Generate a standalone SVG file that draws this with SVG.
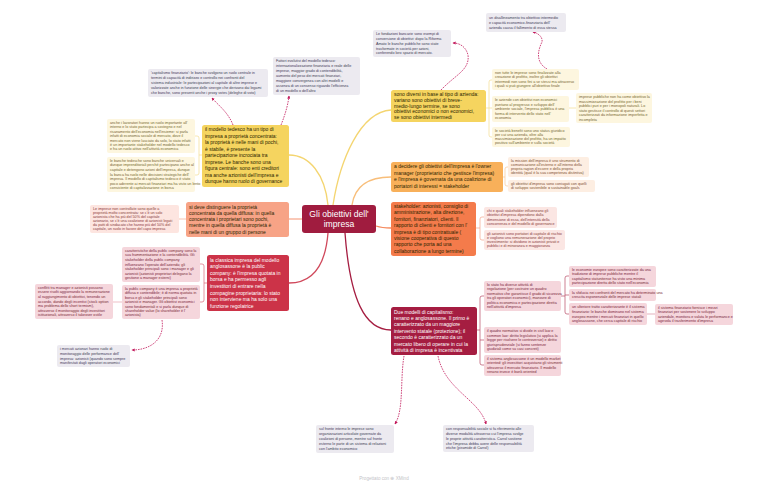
<svg xmlns="http://www.w3.org/2000/svg" width="768" height="485" viewBox="0 0 768 485">
<defs>
<marker id="ar" viewBox="0 0 6 6" refX="5" refY="3" markerWidth="4" markerHeight="4" orient="auto">
<path d="M0,0 L6,3 L0,6 z" fill="#c2185b"/>
</marker>
<style>
text{font-family:"Liberation Sans",Arial,sans-serif;}
.s{font-size:3.7px;}
.m{font-size:5px;}
.gb{fill:#eceaf0;} .gt{fill:#3c3a55;}
.yb{fill:#fdf6df;} .yt{fill:#75662e;}
.ob{fill:#fdeee2;} .ot{fill:#7e5130;}
.pb{fill:#fbe6e3;} .pt{fill:#8a3a3a;}
.rb{fill:#f5d6dc;} .rt{fill:#7a2638;}
.dk{fill:#2b2400;} .wt{fill:#ffffff;}
.br{fill:none;stroke-width:0.7;}
.cn{fill:none;stroke-width:1.3;}
.rel{fill:none;stroke:#c2185b;stroke-width:0.8;stroke-dasharray:1.6 1;marker-end:url(#ar);}
</style>
</defs>
<rect width="768" height="485" fill="#ffffff"/>

<g id="connectors">
<path class="cn" stroke="#f4d570" d="M333,205 C340,160 360,112 391,110"/>
<path class="cn" stroke="#f4d570" d="M328,205 C325,175 310,155 289,155"/>
<path class="cn" stroke="#f8be7a" d="M352,205 C355,185 370,177 391,177"/>
<path class="cn" stroke="#f58a5e" d="M376,226 C382,228 386,228 391,228"/>
<path class="cn" stroke="#f7ab90" d="M302,219 L289,219"/>
<path class="cn" stroke="#d0485b" d="M328,233 C325,270 310,283 289,283"/>
<path class="cn" stroke="#a51d41" d="M345,233 C350,300 365,330 391,330"/>

<path class="br" stroke="#f3dc90" d="M486,108 L489,108 M492,80 L491,80 Q489,80 489,82 L489,135 Q489,137 491,137 L492,137 M489,108 L492,108"/>
<path class="br" stroke="#f3dc90" d="M569,108 L576,108"/>
<path class="br" stroke="#f8c89a" d="M503,177 L505,177 M508,167 L507,167 Q505,167 505,169 L505,184 Q505,186 507,186 L508,186"/>
<path class="br" stroke="#f4a58a" d="M476,228 L480,228 M484,217 L482,217 Q480,217 480,219 L480,238 Q480,240 482,240 L484,240"/>
<path class="br" stroke="#f3dc90" d="M202,155 L199,155 M195,136 L197,136 Q199,136 199,138 L199,173 Q199,175 197,175 L195,175"/>
<path class="br" stroke="#f7ab90" d="M186,219 L179,219"/>
<path class="br" stroke="#d8677a" d="M207,283 L204,283 M200,264 L202,264 Q204,264 204,266 L204,300 Q204,302 202,302 L200,302"/>
<path class="br" stroke="#e8a5b0" d="M122,302 L113,302"/>
<path class="br" stroke="#b84a66" d="M477,330 L480,330 M484,296 L482,296 Q480,296 480,298 L480,363 Q480,365 482,365 L484,365 M480,340 L484,340"/>
<path class="br" stroke="#b84a66" d="M561,296 L565,296 M569,276 L567,276 Q565,276 565,278 L565,312 Q565,314 567,314 L569,314 M565,295 L569,295"/>
<path class="br" stroke="#d890a0" d="M647,314 L655,314"/>

<path class="rel" d="M233,125 C228,112 218,105 212,98"/>
<path class="rel" d="M281,125 C285,115 288,105 289,96"/>
<path class="rel" d="M441,90 C455,75 470,70 468,55 C466,47 460,43 453,43"/>
<path class="rel" d="M547,69 C535,62 538,50 542,42 C543,37 538,33 533,32"/>
<path class="rel" d="M162,320 C165,340 150,350 132,350"/>
<path class="rel" d="M404,356 C400,380 404,410 395,424"/>
<path class="rel" d="M438,356 C445,390 480,400 486,424"/>
</g>

<g id="central">
<rect x="302" y="205" width="74" height="28" rx="3" fill="#a01c3f"/>
<text x="339" y="216.5" font-size="8.6" fill="#fff" text-anchor="middle"><tspan x="339" dy="0">Gli obiettivi dell'</tspan><tspan x="339" dy="10">impresa</tspan></text>
</g>

<g id="g1"><rect class="gb" x="148" y="69" width="120" height="28" rx="2"/>
<text class="s gt" x="151" y="74.3"><tspan x="151" dy="0">'capitalismo finanziario': le banche svolgono un ruolo centrale in</tspan><tspan x="151" dy="5">termini di capacità di indirizzo e controllo nei confronti del</tspan><tspan x="151" dy="5">sistema industriale: le partecipazioni al capitale di altre imprese e</tspan><tspan x="151" dy="5">valorizzate anche in funzione delle sinergie che derivano dai legami</tspan><tspan x="151" dy="5">che banche, sono presenti anche i proxy votes (deleghe di voto)</tspan></text></g>

<g id="g2"><rect class="gb" x="273" y="57" width="87" height="38" rx="2"/>
<text class="s gt" x="276" y="62.3"><tspan x="276" dy="0">Fattori evolutivi del modello tedesco:</tspan><tspan x="276" dy="5">internazionalizzazione finanziaria e reale delle</tspan><tspan x="276" dy="5">imprese, maggior grado di contendibilità,</tspan><tspan x="276" dy="5">aumento del peso dei mercati finanziari,</tspan><tspan x="276" dy="5">maggiore convergenza con altri modelli e</tspan><tspan x="276" dy="5">assenza di un consenso riguardo l'efficienza</tspan><tspan x="276" dy="5">di un modello o dell'altro</tspan></text></g>

<g id="g3"><rect class="gb" x="373" y="30" width="78" height="27" rx="2"/>
<text class="s gt" x="376" y="35.1"><tspan x="376" dy="0">Le fondazioni bancarie sono esempi di</tspan><tspan x="376" dy="4.8">conversione di obiettivi: dopo la Riforma</tspan><tspan x="376" dy="4.8">Amato le banche pubbliche sono state</tspan><tspan x="376" dy="4.8">trasformate in società per azioni,</tspan><tspan x="376" dy="4.8">conferendo loro spazio di mercato.</tspan></text></g>

<g id="g4"><rect class="gb" x="486" y="13" width="80" height="19" rx="2"/>
<text class="s gt" x="489" y="18.5"><tspan x="489" dy="0">un disallineamento tra obiettivo intermedio</tspan><tspan x="489" dy="5.2">e capacità economico-finanziaria dell'</tspan><tspan x="489" dy="5.2">azienda causa il fallimento di essa stessa</tspan></text></g>

<g id="n-diversi"><rect x="391" y="90" width="95" height="32" rx="2.5" fill="#f5d45f"/>
<text class="m dk" x="394" y="96"><tspan x="394" dy="0">sono diversi in base al tipo di azienda:</tspan><tspan x="394" dy="5.8">variano sono obiettivi di breve-</tspan><tspan x="394" dy="5.8">medio-lungo termine, se sono</tspan><tspan x="394" dy="5.8">obiettivi economici o non economici,</tspan><tspan x="394" dy="5.8">se sono obiettivi intermedi</tspan></text></g>

<g id="ya"><rect class="yb" x="492" y="69" width="87" height="21" rx="2"/>
<text class="s yt" x="495" y="73.9"><tspan x="495" dy="0">non tutte le imprese sono finalizzate alla</tspan><tspan x="495" dy="4.5">creazione di profitto, inoltre gli obiettivi</tspan><tspan x="495" dy="4.5">intermedi non sono fini a se stessi ma attraverso</tspan><tspan x="495" dy="4.5">i quali si può giungere all'obiettivo finale</tspan></text></g>

<g id="yb"><rect class="yb" x="492" y="96" width="77" height="26" rx="2"/>
<text class="s yt" x="495" y="101"><tspan x="495" dy="0">le aziende con obiettivi non economici</tspan><tspan x="495" dy="4.6">puntano al progresso e sviluppo dell'</tspan><tspan x="495" dy="4.6">ambiente sociale, l'impresa pubblica è una</tspan><tspan x="495" dy="4.6">forma di intervento dello stato nell'</tspan><tspan x="495" dy="4.6">economia</tspan></text></g>

<g id="yc"><rect class="yb" x="576" y="93" width="76" height="30" rx="2"/>
<text class="s yt" x="579" y="98"><tspan x="579" dy="0">imprese pubbliche non ha come obiettivo la</tspan><tspan x="579" dy="4.5">massimizzazione del profitto per i beni</tspan><tspan x="579" dy="4.5">pubblici puri e per i monopoli naturali. Lo</tspan><tspan x="579" dy="4.5">stato gestisce il controllo di questi settori</tspan><tspan x="579" dy="4.5">caratterizzati da informazione imperfetta e</tspan><tspan x="579" dy="4.5">incompleta</tspan></text></g>

<g id="yd"><rect class="yb" x="492" y="127" width="78" height="20" rx="2"/>
<text class="s yt" x="495" y="131.7"><tspan x="495" dy="0">le società benefit sono uno status giuridico</tspan><tspan x="495" dy="4.25">per cui una azienda, oltre alla</tspan><tspan x="495" dy="4.25">massimizzazione del profitto, ha un impatto</tspan><tspan x="495" dy="4.25">positivo sull'ambiente e sulla società</tspan></text></g>

<g id="n-owner"><rect x="391" y="162" width="112" height="30" rx="2.5" fill="#f8b05a"/>
<text class="m dk" x="394" y="168"><tspan x="394" dy="0">a decidere gli obiettivi dell'impresa è l'owner</tspan><tspan x="394" dy="6.6">manager (proprietario che gestisce l'impresa)</tspan><tspan x="394" dy="6.6">e l'impresa è governata da una coalizione di</tspan><tspan x="394" dy="6.6">portatori di interessi = stakeholder</tspan></text></g>

<g id="oa"><rect class="ob" x="508" y="157" width="81" height="20" rx="2"/>
<text class="s ot" x="511" y="161.7"><tspan x="511" dy="0">la mission dell'impresa è uno strumento di</tspan><tspan x="511" dy="4.25">comunicazione all'esterno e all'interno della</tspan><tspan x="511" dy="4.25">propria ragion d'essere e della propria</tspan><tspan x="511" dy="4.25">identità (qual è la sua competenza distintiva)</tspan></text></g>

<g id="ob"><rect class="ob" x="508" y="180" width="87" height="12" rx="2"/>
<text class="s ot" x="511" y="184.9"><tspan x="511" dy="0">gli obiettivi d'impresa sono coniugati con quelli</tspan><tspan x="511" dy="4.5">di sviluppo sostenibile = sustainable goals</tspan></text></g>

<g id="n-stake"><rect x="391" y="202" width="85" height="54" rx="2.5" fill="#f47b4b"/>
<text class="m dk" x="394" y="208"><tspan x="394" dy="0">stakeholder: azionisti, consiglio di</tspan><tspan x="394" dy="6.4">amministrazione, alta direzione,</tspan><tspan x="394" dy="6.4">fornitori, finanziatori, clienti. Il</tspan><tspan x="394" dy="6.4">rapporto di clienti e fornitori con l'</tspan><tspan x="394" dy="6.4">impresa è di tipo contrattuale (</tspan><tspan x="394" dy="6.4">visione cooperativa di questo</tspan><tspan x="394" dy="6.4">rapporto che porta ad una</tspan><tspan x="394" dy="6.4">collaborazione a lungo termine)</tspan></text></g>

<g id="sa"><rect class="pb" x="484" y="207" width="73" height="21" rx="2"/>
<text class="s pt" x="487" y="211.9"><tspan x="487" dy="0">chi e quali stakeholder influenzano gli</tspan><tspan x="487" dy="4.5">obiettivi d'impresa dipendono dalla</tspan><tspan x="487" dy="4.5">dimensione di essa, dell'intensità della</tspan><tspan x="487" dy="4.5">concorrenza e del modello di governance</tspan></text></g>

<g id="sb"><rect class="pb" x="484" y="230" width="81" height="20" rx="2"/>
<text class="s pt" x="487" y="234.7"><tspan x="487" dy="0">gli azionisti sono portatori di capitale di rischio</tspan><tspan x="487" dy="4.25">e vogliono una remunerazione del proprio</tspan><tspan x="487" dy="4.25">investimento: si dividono in azionisti privati e</tspan><tspan x="487" dy="4.25">pubblici e di minoranza e maggioranza</tspan></text></g>

<g id="n-tedesco"><rect x="202" y="125" width="87" height="62" rx="2.5" fill="#f5d45f"/>
<text class="m dk" x="205" y="131"><tspan x="205" dy="0">il modello tedesco ha un tipo di</tspan><tspan x="205" dy="6.55">impresa a proprietà concentrata:</tspan><tspan x="205" dy="6.55">la proprietà è nelle mani di pochi,</tspan><tspan x="205" dy="6.55">è stabile, è presente la</tspan><tspan x="205" dy="6.55">partecipazione incrociata tra</tspan><tspan x="205" dy="6.55">imprese. Le banche sono una</tspan><tspan x="205" dy="6.55">figura centrale: sono enti creditori</tspan><tspan x="205" dy="6.55">ma anche azionisti dell'impresa e</tspan><tspan x="205" dy="6.55">dunque hanno ruolo di governance</tspan></text></g>

<g id="l1"><rect class="yb" x="107" y="119" width="88" height="34" rx="2"/>
<text class="s yt" x="110" y="123.8"><tspan x="110" dy="0">anche i lavoratori hanno un ruolo importante all'</tspan><tspan x="110" dy="4.43">interno e lo stato partecipa a sostegno e nel</tspan><tspan x="110" dy="4.43">risanamento dell'economia nell'insieme: si parla</tspan><tspan x="110" dy="4.43">infatti di economia sociale di mercato, dove il</tspan><tspan x="110" dy="4.43">mercato non viene lasciato da solo, lo stato infatti</tspan><tspan x="110" dy="4.43">è un importante stakeholder nel modello tedesco</tspan><tspan x="110" dy="4.43">e ha un ruolo attivo nell'attività economica</tspan></text></g>

<g id="l2"><rect class="yb" x="107" y="157" width="88" height="35" rx="2"/>
<text class="s yt" x="110" y="161.9"><tspan x="110" dy="0">le banche tedesche sono banche universali e</tspan><tspan x="110" dy="4.57">dunque imprenditoriali perché partecipano anche al</tspan><tspan x="110" dy="4.57">capitale e detengono azioni dell'impresa, dunque</tspan><tspan x="110" dy="4.57">la banca ha ruolo nelle decisioni strategiche dell'</tspan><tspan x="110" dy="4.57">impresa. Il modello di capitalismo tedesco è stato</tspan><tspan x="110" dy="4.57">poco aderente ai mercati finanziari ma ha visto un lento</tspan><tspan x="110" dy="4.57">consistente di capitalizzazione in borsa</tspan></text></g>

<g id="n-proprieta"><rect x="186" y="202" width="103" height="35" rx="2.5" fill="#f7a386"/>
<text class="m dk" x="189" y="208.5"><tspan x="189" dy="0">si deve distinguere la proprietà</tspan><tspan x="189" dy="6.3">concentrata da quella diffusa: in quella</tspan><tspan x="189" dy="6.3">concentrata i proprietari sono pochi,</tspan><tspan x="189" dy="6.3">mentre in quella diffusa la proprietà è</tspan><tspan x="189" dy="6.3">nelle mani di un gruppo di persone</tspan></text></g>

<g id="p0"><rect x="90" y="205" width="89" height="28" rx="2" fill="#fde5e0"/>
<text class="s pt" x="93" y="209.6"><tspan x="93" dy="0">Le imprese non controllate sono quelle a</tspan><tspan x="93" dy="4.17">proprietà molto concentrata: se c'è un solo</tspan><tspan x="93" dy="4.17">azionista che ha più del 50% del capitale</tspan><tspan x="93" dy="4.17">azionario, se c'è una coalizione di azionisti legati</tspan><tspan x="93" dy="4.17">da patti di sindacato che hanno più del 50% del</tspan><tspan x="93" dy="4.17">capitale, un ruolo in favore del capo impresa</tspan></text></g>

<g id="n-public"><rect x="207" y="255" width="82" height="56" rx="2.5" fill="#cc3348"/>
<text class="m wt" x="210" y="261.5"><tspan x="210" dy="0">la classica impresa del modello</tspan><tspan x="210" dy="6.6">anglosassone è la public</tspan><tspan x="210" dy="6.6">company: è l'impresa quotata in</tspan><tspan x="210" dy="6.6">borsa e ha permesso agli</tspan><tspan x="210" dy="6.6">investitori di entrare nella</tspan><tspan x="210" dy="6.6">compagine proprietaria: lo stato</tspan><tspan x="210" dy="6.6">non interviene ma ha solo una</tspan><tspan x="210" dy="6.6">funzione regolatrice</tspan></text></g>

<g id="r1"><rect class="rb" x="122" y="247" width="78" height="35" rx="2"/>
<text class="s rt" x="125" y="251.9"><tspan x="125" dy="0">caratteristiche della public company sono la</tspan><tspan x="125" dy="4.57">sua frammentazione e la contendibilità. Gli</tspan><tspan x="125" dy="4.57">stakeholder della public company</tspan><tspan x="125" dy="4.57">influenzano l'operato dell'azienda; gli</tspan><tspan x="125" dy="4.57">stakeholder principali sono i manager e gli</tspan><tspan x="125" dy="4.57">azionisti (azionisti proprietari delegano la</tspan><tspan x="125" dy="4.57">gestione a manager esterni)</tspan></text></g>

<g id="r2"><rect class="rb" x="122" y="285" width="78" height="34" rx="2"/>
<text class="s rt" x="125" y="289.8"><tspan x="125" dy="0">la public company è una impresa a proprietà</tspan><tspan x="125" dy="4.43">diffusa e contendibile; è di norma quotata in</tspan><tspan x="125" dy="4.43">borsa e gli stakeholder principali sono</tspan><tspan x="125" dy="4.43">azionisti e manager. Gli obiettivi economici</tspan><tspan x="125" dy="4.43">sono fondamentali e si parla dunque di</tspan><tspan x="125" dy="4.43">shareholder value (lo shareholder è l'</tspan><tspan x="125" dy="4.43">azionista)</tspan></text></g>

<g id="r3"><rect class="rb" x="35" y="284" width="78" height="35" rx="2"/>
<text class="s rt" x="38" y="288.9"><tspan x="38" dy="0">conflitti tra manager e azionisti possono</tspan><tspan x="38" dy="4.57">essere risolti aggiornando la remunerazione</tspan><tspan x="38" dy="4.57">al raggiungimento di obiettivi, tenendo un</tspan><tspan x="38" dy="4.57">accordo, dando degli incentivi (stock option</tspan><tspan x="38" dy="4.57">ma problema dello short termism),</tspan><tspan x="38" dy="4.57">attraverso il monitoraggio degli investitori</tspan><tspan x="38" dy="4.57">istituzionali, attraverso il takeover ostile</tspan></text></g>

<g id="g5"><rect class="gb" x="57" y="345" width="73" height="22" rx="2"/>
<text class="s gt" x="60" y="350.1"><tspan x="60" dy="0">i mercati azionari hanno ruolo di</tspan><tspan x="60" dy="4.75">monitoraggio delle performance dell'</tspan><tspan x="60" dy="4.75">impresa: azionisti (quando sono sempre</tspan><tspan x="60" dy="4.75">manifestati dagli operatori economici</tspan></text></g>

<g id="n-modelli"><rect x="391" y="307" width="86" height="48" rx="2.5" fill="#a51d41"/>
<text class="m wt" x="394" y="313.5"><tspan x="394" dy="0">Due modelli di capitalismo:</tspan><tspan x="394" dy="6.4">renano e anglosassone. Il primo è</tspan><tspan x="394" dy="6.4">caratterizzato da un maggiore</tspan><tspan x="394" dy="6.4">intervento statale (protezione); il</tspan><tspan x="394" dy="6.4">secondo è caratterizzato da un</tspan><tspan x="394" dy="6.4">mercato libero di operare in cui la</tspan><tspan x="394" dy="6.4">attività di impresa è incentivata</tspan></text></g>

<g id="d1"><rect class="rb" x="484" y="281" width="77" height="30" rx="2"/>
<text class="s rt" x="487" y="285.9"><tspan x="487" dy="0">lo stato ha diverse attività di</tspan><tspan x="487" dy="4.5">regolazione (per costruire un quadro</tspan><tspan x="487" dy="4.5">normativo che garantisse il grado di sicurezza</tspan><tspan x="487" dy="4.5">tra gli operatori economici), manovre di</tspan><tspan x="487" dy="4.5">politica economica e partecipazione diretta</tspan><tspan x="487" dy="4.5">nell'attività d'impresa</tspan></text></g>

<g id="d2"><rect class="rb" x="484" y="327" width="77" height="26" rx="2"/>
<text class="s rt" x="487" y="332"><tspan x="487" dy="0">il quadro normativo si divide in civil law e</tspan><tspan x="487" dy="4.6">common law: diritto legislativo (si applica la</tspan><tspan x="487" dy="4.6">legge per risolvere le controversie) e diritto</tspan><tspan x="487" dy="4.6">giurisprudenziale (si fanno sentenze</tspan><tspan x="487" dy="4.6">giudiziali come su casi concreti)</tspan></text></g>

<g id="d3"><rect class="rb" x="484" y="355" width="77" height="21" rx="2"/>
<text class="s rt" x="487" y="359.9"><tspan x="487" dy="0">il sistema anglosassone è un modello market</tspan><tspan x="487" dy="4.5">oriented: gli investitori acquistano gli strumenti</tspan><tspan x="487" dy="4.5">attraverso il mercato finanziario. Il modello</tspan><tspan x="487" dy="4.5">renano invece è bank oriented</tspan></text></g>

<g id="e1"><rect class="rb" x="569" y="266" width="87" height="21" rx="2"/>
<text class="s rt" x="572" y="270.9"><tspan x="572" dy="0">le economie europee sono caratterizzate da una</tspan><tspan x="572" dy="4.5">tradizione di imprese pubbliche mentre il</tspan><tspan x="572" dy="4.5">capitalismo statunitense ha visto una minima</tspan><tspan x="572" dy="4.5">partecipazione diretta dello stato nell'economia</tspan></text></g>

<g id="e2"><rect class="rb" x="569" y="289" width="87" height="12" rx="2"/>
<text class="s rt" x="572" y="293.9"><tspan x="572" dy="0">la sfiducia nei confronti del mercato ha determinato una</tspan><tspan x="572" dy="4.5">crescita esponenziale delle imprese statali</tspan></text></g>

<g id="e3"><rect class="rb" x="569" y="303" width="78" height="22" rx="2"/>
<text class="s rt" x="572" y="308.1"><tspan x="572" dy="0">un ulteriore tratto caratterizzante è il sistema</tspan><tspan x="572" dy="4.75">finanziario: le banche dominano nel sistema</tspan><tspan x="572" dy="4.75">europeo mentre i mercati finanziari in quello</tspan><tspan x="572" dy="4.75">anglosassone, che cerca capitale di rischio</tspan></text></g>

<g id="e4"><rect class="rb" x="655" y="304" width="78" height="21" rx="2"/>
<text class="s rt" x="658" y="308.9"><tspan x="658" dy="0">il sistema finanziario fornisce i mezzi</tspan><tspan x="658" dy="4.5">finanziari per sostenere lo sviluppo</tspan><tspan x="658" dy="4.5">aziendale, monitora e valuta le performance e</tspan><tspan x="658" dy="4.5">agevola il trasferimento d'impresa</tspan></text></g>

<g id="b1"><rect class="gb" x="316" y="425" width="78" height="28" rx="2"/>
<text class="s gt" x="319" y="430.3"><tspan x="319" dy="0">sul fronte interno le imprese sono</tspan><tspan x="319" dy="5">organizzazioni articolate governate da</tspan><tspan x="319" dy="5">coalizioni di persone, mentre sul fronte</tspan><tspan x="319" dy="5">esterno le parte di un sistema di relazioni</tspan><tspan x="319" dy="5">con l'ambito economico</tspan></text></g>

<g id="b2"><rect class="gb" x="443" y="425" width="91" height="27" rx="2"/>
<text class="s gt" x="446" y="430.1"><tspan x="446" dy="0">con responsabilità sociale si fa riferimento alle</tspan><tspan x="446" dy="4.8">diverse modalità attraverso cui l'impresa svolge</tspan><tspan x="446" dy="4.8">le proprie attività caratteristica. Carrol sostiene</tspan><tspan x="446" dy="4.8">che l'impresa debba avere delle responsabilità</tspan><tspan x="446" dy="4.8">etiche (piramide di Carrol)</tspan></text></g>

<text x="384" y="480" font-size="4.6" fill="#c4c4c8" text-anchor="middle">Progettato con ⊕ XMind</text>
</svg>
